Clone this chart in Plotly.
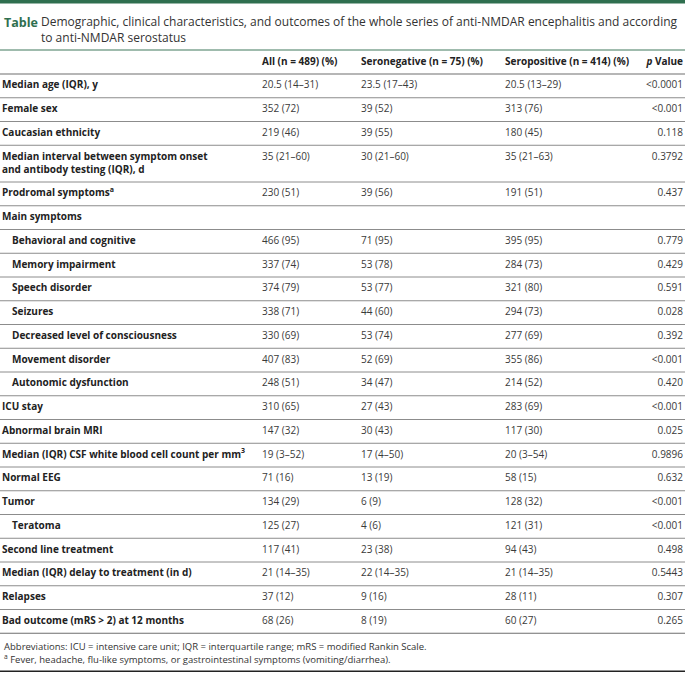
import plotly.graph_objects as go

# ---------------- data ----------------
labels = [
    "Median age (IQR), y",
    "Female sex",
    "Caucasian ethnicity",
    "Median interval between symptom onset<br>and antibody testing (IQR), d",
    "Prodromal symptoms<sup>a</sup>",
    "Main symptoms",
    "Behavioral and cognitive",
    "Memory impairment",
    "Speech disorder",
    "Seizures",
    "Decreased level of consciousness",
    "Movement disorder",
    "Autonomic dysfunction",
    "ICU stay",
    "Abnormal brain MRI",
    "Median (IQR) CSF white blood cell count per mm<sup>3</sup>",
    "Normal EEG",
    "Tumor",
    "Teratoma",
    "Second line treatment",
    "Median (IQR) delay to treatment (in d)",
    "Relapses",
    "Bad outcome (mRS > 2) at 12 months",
]
indented = [False, False, False, False, False, False,
            True, True, True, True, True, True, True,
            False, False, False, False, False, True,
            False, False, False, False]
all_vals = ["20.5 (14–31)", "352 (72)", "219 (46)", "35 (21–60)", "230 (51)", "",
            "466 (95)", "337 (74)", "374 (79)", "338 (71)", "330 (69)", "407 (83)", "248 (51)",
            "310 (65)", "147 (32)", "19 (3–52)", "71 (16)", "134 (29)", "125 (27)",
            "117 (41)", "21 (14–35)", "37 (12)", "68 (26)"]
neg_vals = ["23.5 (17–43)", "39 (52)", "39 (55)", "30 (21–60)", "39 (56)", "",
            "71 (95)", "53 (78)", "53 (77)", "44 (60)", "53 (74)", "52 (69)", "34 (47)",
            "27 (43)", "30 (43)", "17 (4–50)", "13 (19)", "6 (9)", "4 (6)",
            "23 (38)", "22 (14–35)", "9 (16)", "8 (19)"]
pos_vals = ["20.5 (13–29)", "313 (76)", "180 (45)", "35 (21–63)", "191 (51)", "",
            "395 (95)", "284 (73)", "321 (80)", "294 (73)", "277 (69)", "355 (86)", "214 (52)",
            "283 (69)", "117 (30)", "20 (3–54)", "58 (15)", "128 (32)", "121 (31)",
            "94 (43)", "21 (14–35)", "28 (11)", "60 (27)"]
p_vals = ["<0.0001", "<0.001", "0.118", "0.3792", "0.437", "",
          "0.779", "0.429", "0.591", "0.028", "0.392", "<0.001", "0.420",
          "<0.001", "0.025", "0.9896", "0.632", "<0.001", "<0.001",
          "0.498", "0.5443", "0.307", "0.265"]
headers = ["All (n = 489) (%)", "Seronegative (n = 75) (%)",
           "Seropositive (n = 414) (%)", "<i>p</i> Value"]
title_lead = "Table"
title_text = ("Demographic, clinical characteristics, and outcomes of the whole series of "
              "anti-NMDAR encephalitis and according<br>to anti-NMDAR serostatus")
footnotes = ["Abbreviations: ICU = intensive care unit; IQR = interquartile range; "
             "mRS = modified Rankin Scale.",
             "<sup>a</sup> Fever, headache, flu-like symptoms, or gastrointestinal symptoms "
             "(vomiting/diarrhea)."]

# ---------------- layout geometry ----------------
W, H = 685, 677
FONT = "Open Sans"
GREEN = "#2f6f4f"
TEXT = "#222222"
VAL = "#3a3a3a"
LINE = "#8c8c8c"

row_h = 23.75
line_extra = 13
header_top = 50
header_bot = 74

tops, centers, first_line = [], [], []
y = header_bot
for lab in labels:
    n = lab.count("<br>") + 1
    h = row_h + (n - 1) * line_extra
    tops.append(y)
    centers.append(y + h / 2)
    first_line.append(y + row_h / 2)
    y += h
table_bottom = y

x_label, x_indent = 2, 12
x_cols = [262, 361, 505]
x_p = 683


def nonempty(vals):
    idx = [i for i, v in enumerate(vals) if v]
    return [first_line[i] for i in idx], [vals[i] for i in idx]


fig = go.Figure()

fig.add_trace(go.Scatter(
    x=[x_indent if ind else x_label for ind in indented],
    y=centers,
    text=["<b>" + l + "</b>" for l in labels],
    mode="text", textposition="middle right",
    textfont=dict(family=FONT, size=10, color=TEXT),
    hoverinfo="skip", showlegend=False))

for xc, vals in zip(x_cols, [all_vals, neg_vals, pos_vals]):
    ys, ts = nonempty(vals)
    fig.add_trace(go.Scatter(
        x=[xc] * len(ts), y=ys, text=ts,
        mode="text", textposition="middle right",
        textfont=dict(family=FONT, size=10, color=VAL),
        hoverinfo="skip", showlegend=False))

ys, ts = nonempty(p_vals)
fig.add_trace(go.Scatter(
    x=[x_p] * len(ts), y=ys, text=ts,
    mode="text", textposition="middle left",
    textfont=dict(family=FONT, size=10, color=VAL),
    hoverinfo="skip", showlegend=False))

hy = (header_top + header_bot) / 2
fig.add_trace(go.Scatter(
    x=x_cols, y=[hy] * 3, text=["<b>" + h + "</b>" for h in headers[:3]],
    mode="text", textposition="middle right",
    textfont=dict(family=FONT, size=10, color=TEXT),
    hoverinfo="skip", showlegend=False))
fig.add_trace(go.Scatter(
    x=[x_p], y=[hy], text=["<b>" + headers[3] + "</b>"],
    mode="text", textposition="middle left",
    textfont=dict(family=FONT, size=10, color=TEXT),
    hoverinfo="skip", showlegend=False))

shapes = []
shapes.append(dict(type="rect", xref="x", yref="y", x0=0, x1=W, y0=0, y1=3.5,
                   fillcolor=GREEN, line=dict(width=0)))
shapes.append(dict(type="line", xref="x", yref="y", x0=0, x1=W, y0=header_top, y1=header_top,
                   line=dict(color="#7fa592", width=1.5)))
shapes.append(dict(type="line", xref="x", yref="y", x0=0, x1=W, y0=header_bot, y1=header_bot,
                   line=dict(color="#6e6e6e", width=1.2)))
for t in tops[1:]:
    shapes.append(dict(type="line", xref="x", yref="y", x0=0, x1=W, y0=t, y1=t,
                       line=dict(color=LINE, width=1)))
shapes.append(dict(type="line", xref="x", yref="y", x0=0, x1=W, y0=table_bottom, y1=table_bottom,
                   line=dict(color="#6e6e6e", width=1.2)))
shapes.append(dict(type="line", xref="x", yref="y", x0=0, x1=W, y0=table_bottom + 38,
                   y1=table_bottom + 38, line=dict(color="#222222", width=1.5)))

annotations = [
    dict(x=2, y=22, xref="x", yref="y", text="<b>" + title_lead + "</b>", showarrow=False,
         xanchor="left", yanchor="middle", font=dict(family=FONT, size=12.5, color=GREEN)),
    dict(x=39, y=29.5, xref="x", yref="y", text=title_text, showarrow=False,
         xanchor="left", yanchor="middle", align="left",
         font=dict(family=FONT, size=12, color="#333333")),
    dict(x=2, y=table_bottom + 13, xref="x", yref="y", text=footnotes[0], showarrow=False,
         xanchor="left", yanchor="middle", font=dict(family=FONT, size=9.5, color="#333333")),
    dict(x=2, y=table_bottom + 25.5, xref="x", yref="y", text=footnotes[1], showarrow=False,
         xanchor="left", yanchor="middle", font=dict(family=FONT, size=9.5, color="#333333")),
]

fig.update_layout(
    width=W, height=H, margin=dict(l=0, r=0, t=0, b=0),
    paper_bgcolor="white", plot_bgcolor="white",
    xaxis=dict(range=[0, W], visible=False, fixedrange=True),
    yaxis=dict(range=[H, 0], visible=False, fixedrange=True),
    shapes=shapes, annotations=annotations,
)

fig.write_html("out.html", config={"displayModeBar": False},
               post_script="document.body.style.margin='0';document.body.style.overflow='hidden';")
